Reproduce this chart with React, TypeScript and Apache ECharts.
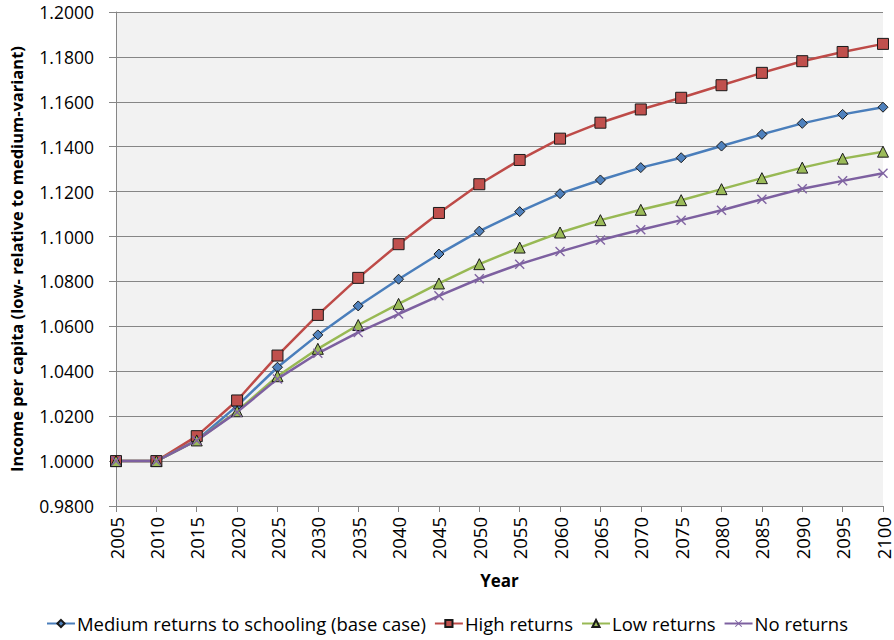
import React, { useEffect, useRef } from "react";
import * as echarts from "echarts";

const years = ["2005","2010","2015","2020","2025","2030","2035","2040","2045","2050","2055","2060","2065","2070","2075","2080","2085","2090","2095","2100"];
const medium = [1.0, 1.0, 1.0093, 1.0246, 1.0418, 1.0562, 1.0691, 1.0810, 1.0922, 1.1024, 1.1111, 1.1191, 1.1252, 1.1307, 1.1351, 1.1403, 1.1455, 1.1504, 1.1544, 1.1576];
const high = [1.0, 1.0, 1.0111, 1.0270, 1.0470, 1.0651, 1.0816, 1.0966, 1.1105, 1.1233, 1.1341, 1.1436, 1.1507, 1.1566, 1.1618, 1.1674, 1.1729, 1.1781, 1.1822, 1.1858];
const low = [1.0, 1.0, 1.0092, 1.0222, 1.0378, 1.0500, 1.0606, 1.0700, 1.0791, 1.0877, 1.0951, 1.1018, 1.1073, 1.1119, 1.1162, 1.1211, 1.1260, 1.1307, 1.1347, 1.1378];
const none = [1.0, 1.0, 1.0092, 1.0218, 1.0366, 1.0480, 1.0573, 1.0655, 1.0736, 1.0812, 1.0877, 1.0933, 1.0985, 1.1030, 1.1073, 1.1117, 1.1166, 1.1213, 1.1248, 1.1282];
const seriesNames = ["Medium returns to schooling (base case)", "High returns", "Low returns", "No returns"];

const FONT = "'Open Sans', sans-serif";
const CROSS = "path://M0,1 L1,0 L5,4 L9,0 L10,1 L6,5 L10,9 L9,10 L5,6 L1,10 L0,9 L4,5 Z";

export default function App() {
  const ref = useRef<HTMLDivElement>(null);
  useEffect(() => {
    if (!ref.current) return;
    const chart = echarts.init(ref.current, undefined, { renderer: "svg" });
    const mk = (name: string, data: number[], line: string, fill: string, symbol: string, size: number, border: string, bw: number) => ({
      name,
      type: "line",
      data,
      symbol,
      symbolSize: size,
      lineStyle: { color: line, width: 2.5 },
      itemStyle: { color: fill, borderColor: border, borderWidth: bw },
      emphasis: { disabled: true },
    });
    chart.setOption({
      animation: false,
      backgroundColor: "#ffffff",
      grid: { left: 115, right: 11, top: 12, bottom: 134, backgroundColor: "#F2F2F2", show: true, borderWidth: 0 },
      legend: {
        bottom: 2,
        left: "center",
        itemWidth: 28,
        itemHeight: 9,
        itemGap: 8,
        textStyle: { fontFamily: FONT, fontSize: 18.5, color: "#000", padding: [0, 0, 0, -3] },
        data: seriesNames,
      },
      xAxis: {
        type: "category",
        data: years,
        boundaryGap: false,
        name: "Year",
        nameLocation: "middle",
        nameGap: 66,
        nameTextStyle: { fontFamily: FONT, fontSize: 17, fontWeight: "bold", color: "#000" },
        axisLine: { lineStyle: { color: "#868686" } },
        axisTick: { show: true, alignWithLabel: true, length: 6, lineStyle: { color: "#868686" } },
        axisLabel: { rotate: 90, fontFamily: FONT, fontSize: 18.5, lineHeight: 16, color: "#000", margin: 11, interval: 0 },
        splitLine: { show: false },
      },
      yAxis: {
        type: "value",
        min: 0.98,
        max: 1.2,
        interval: 0.02,
        name: "Income per capita (low- relative to medium-variant)",
        nameLocation: "middle",
        nameGap: 91,
        nameTextStyle: { fontFamily: FONT, fontSize: 16.5, fontWeight: "bold", color: "#000" },
        axisLine: { show: true, lineStyle: { color: "#868686" } },
        axisTick: { show: true, length: 7, lineStyle: { color: "#868686" } },
        axisLabel: { fontFamily: FONT, fontSize: 17.5, color: "#000", margin: 22, formatter: (v: number) => v.toFixed(4) },
        splitLine: { show: true, lineStyle: { color: "#868686", width: 1 } },
      },
      series: [
        mk(seriesNames[0], medium, "#4A7EBB", "#4F81BD", "diamond", 10, "#1a1a1a", 1),
        mk(seriesNames[1], high, "#BE4B48", "#C0504D", "rect", 11, "#1a1a1a", 1),
        mk(seriesNames[2], low, "#98B954", "#9BBB59", "triangle", 11, "#1a1a1a", 1),
        mk(seriesNames[3], none, "#7D60A0", "#8064A2", CROSS, 10, "#8064A2", 0),
      ],
    });
    return () => chart.dispose();
  }, []);
  return <div ref={ref} style={{ width: 894, height: 640, position: "absolute", left: 0, top: 0 }} />;
}
